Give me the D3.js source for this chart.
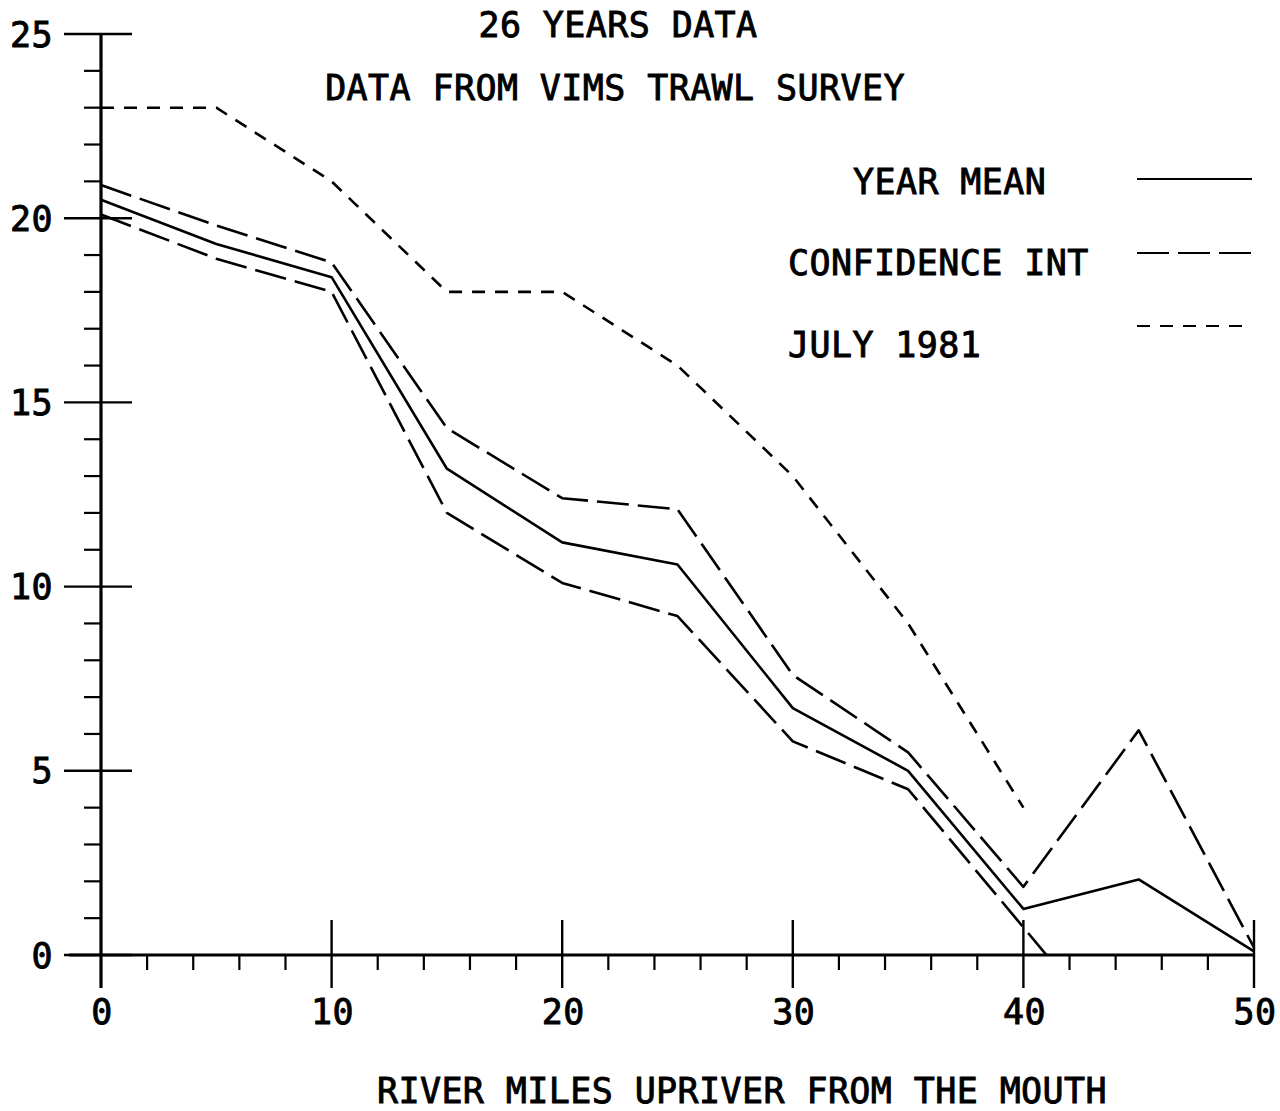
<!DOCTYPE html>
<html>
<head>
<meta charset="utf-8">
<script src="https://cdn.jsdelivr.net/npm/d3@7"></script>
<style>
  html, body { margin: 0; padding: 0; background: #fff; }
  svg { display: block; }
  text { font-family: "DejaVu Sans Mono", "Liberation Mono", monospace; font-size: 35px; fill: #000; stroke: #000; stroke-width: 0.9px; letter-spacing: 0.4px; }
</style>
</head>
<body>
<svg id="chart" width="1280" height="1111"></svg>
<script>
// River miles upriver from the mouth (sampling stations)
const riverMiles = [0, 5, 10, 15, 20, 25, 30, 35, 40, 45, 50];
// 26-year mean and its confidence interval
const yearMean  = [20.5, 19.3, 18.4, 13.2, 11.2, 10.6, 6.7, 5.0, 1.25, 2.05, 0.1];
const upperCI   = [20.9, 19.8, 18.8, 14.3, 12.4, 12.1, 7.6, 5.5, 1.85, 6.1, 0.2];
const lowerCI   = [20.1, 18.9, 18.0, 12.0, 10.1, 9.2, 5.8, 4.5, 0.75, -3.0, 0.0];
// July 1981 survey (stations 0–40)
const july1981Miles = [0, 5, 10, 15, 20, 25, 30, 35, 40];
const july1981      = [23, 23, 21, 18, 18, 16, 13, 9, 4];

const xMajorTicks = [0, 10, 20, 30, 40, 50];
const xMinorTicks = [2, 4, 6, 8, 12, 14, 16, 18, 22, 24, 26, 28, 32, 34, 36, 38, 42, 44, 46, 48];
const yMajorTicks = [0, 5, 10, 15, 20, 25];
const yMinorTicks = d3.range(1, 25).filter(v => v % 5 !== 0);

const titles = ["26 YEARS DATA", "DATA FROM VIMS TRAWL SURVEY"];
const xTitle = "RIVER MILES UPRIVER FROM THE MOUTH";
const legendItems = ["YEAR MEAN", "CONFIDENCE INT", "JULY 1981"];

const svg = d3.select("#chart");
const x = d3.scaleLinear().domain([0, 50]).range([101, 1254]);
const y = d3.scaleLinear().domain([0, 25]).range([955, 34]);

const ink = "#000";

// Clip region for the data lines (values below zero are not drawn)
svg.append("defs").append("clipPath").attr("id", "plotArea")
  .append("rect")
  .attr("x", x(0) - 5).attr("y", y(25) - 5)
  .attr("width", x(50) - x(0) + 10).attr("height", y(0) - y(25) + 5);

// ---- Axes ----
const axes = svg.append("g").attr("stroke", ink).attr("fill", "none");

// y axis spine, running a little below zero
axes.append("line")
  .attr("x1", x(0)).attr("x2", x(0))
  .attr("y1", y(25)).attr("y2", y(0) + 33)
  .attr("stroke-width", 3.2);

// x axis spine, starting a little left of the y axis
axes.append("line")
  .attr("x1", x(0) - 32).attr("x2", x(50))
  .attr("y1", y(0)).attr("y2", y(0))
  .attr("stroke-width", 2.8);

// major y ticks cross the axis
axes.selectAll(".ymaj").data(yMajorTicks).join("line")
  .attr("x1", x(0) - 37).attr("x2", x(0) + 31)
  .attr("y1", d => y(d)).attr("y2", d => y(d))
  .attr("stroke-width", 2.4);

// minor y ticks on the left only
axes.selectAll(".ymin").data(yMinorTicks).join("line")
  .attr("x1", x(0) - 17).attr("x2", x(0))
  .attr("y1", d => y(d)).attr("y2", d => y(d))
  .attr("stroke-width", 2.2);

// major x ticks cross the axis
axes.selectAll(".xmaj").data(xMajorTicks.filter(d => d > 0)).join("line")
  .attr("x1", d => x(d)).attr("x2", d => x(d))
  .attr("y1", y(0) - 35).attr("y2", y(0) + 33)
  .attr("stroke-width", 2.4);

// minor x ticks hang below
axes.selectAll(".xmin").data(xMinorTicks).join("line")
  .attr("x1", d => x(d)).attr("x2", d => x(d))
  .attr("y1", y(0)).attr("y2", y(0) + 15)
  .attr("stroke-width", 2.2);

// tick labels
svg.append("g").selectAll("text").data(yMajorTicks).join("text")
  .attr("x", 53).attr("y", d => y(d) + 12.5)
  .attr("text-anchor", "end")
  .text(d => d);

svg.append("g").selectAll("text").data(xMajorTicks).join("text")
  .attr("x", d => x(d) + 1).attr("y", 1024)
  .attr("text-anchor", "middle")
  .text(d => d);

// ---- Titles ----
svg.append("text").attr("x", 618).attr("y", 37).attr("text-anchor", "middle").text(titles[0]);
svg.append("text").attr("x", 615).attr("y", 100).attr("text-anchor", "middle").text(titles[1]);
svg.append("text").attr("x", 742).attr("y", 1103).attr("text-anchor", "middle").text(xTitle);

// ---- Data lines ----
const line = d3.line().x(d => x(d[0])).y(d => y(d[1]));
const plot = svg.append("g").attr("clip-path", "url(#plotArea)")
  .attr("fill", "none").attr("stroke", ink).attr("stroke-linejoin", "round");

const styles = {
  mean: { width: 2.6, dash: null },
  ci:   { width: 2.6, dash: "32,9" },
  july: { width: 2.6, dash: "13,10" }
};

plot.append("path")
  .datum(d3.zip(july1981Miles, july1981))
  .attr("d", line)
  .attr("stroke-width", styles.july.width)
  .attr("stroke-dasharray", styles.july.dash);

plot.append("path")
  .datum(d3.zip(riverMiles, upperCI))
  .attr("d", line)
  .attr("stroke-width", styles.ci.width)
  .attr("stroke-dasharray", styles.ci.dash);

plot.append("path")
  .datum(d3.zip(riverMiles, lowerCI))
  .attr("d", line)
  .attr("stroke-width", styles.ci.width)
  .attr("stroke-dasharray", styles.ci.dash);

plot.append("path")
  .datum(d3.zip(riverMiles, yearMean))
  .attr("d", line)
  .attr("stroke-width", styles.mean.width);

// ---- Legend ----
const legend = [
  { label: legendItems[0], tx: 853, ty: 194, ly: 179, lx2: 1252, style: styles.mean },
  { label: legendItems[1], tx: 788, ty: 275, ly: 253, lx2: 1252, style: styles.ci },
  { label: legendItems[2], tx: 788, ty: 357, ly: 326, lx2: 1243, style: styles.july }
];
const lg = svg.append("g");
lg.selectAll("text").data(legend).join("text")
  .attr("x", d => d.tx).attr("y", d => d.ty).text(d => d.label);
lg.selectAll("line").data(legend).join("line")
  .attr("x1", 1137).attr("x2", d => d.lx2)
  .attr("y1", d => d.ly).attr("y2", d => d.ly)
  .attr("stroke", ink).attr("stroke-width", 2.2)
  .attr("stroke-dasharray", d => d.style.dash);
</script>
</body>
</html>
